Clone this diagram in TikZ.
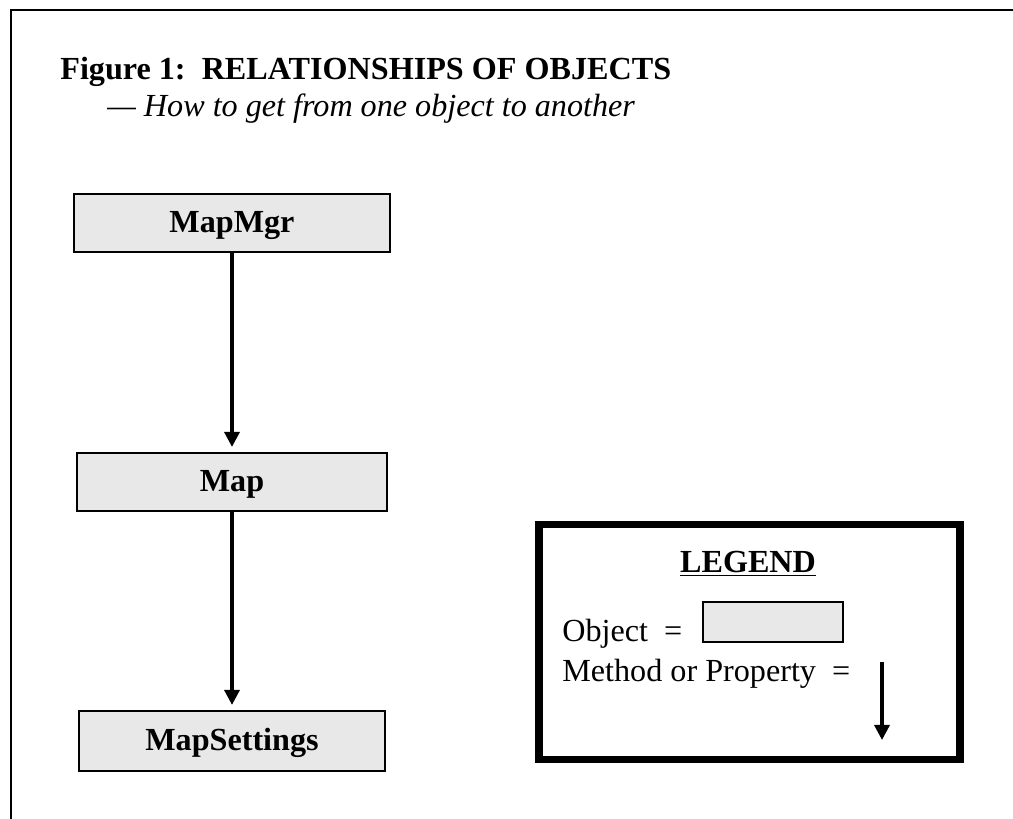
\documentclass[tikz,border=0pt]{standalone}
\usepackage{fontspec}
\setmainfont{Liberation Serif}
\usetikzlibrary{arrows.meta}
\definecolor{objgray}{HTML}{E8E8E8}
\newcommand{\figfont}{\fontsize{18.3}{21}\selectfont}
\tikzset{
    obj/.style={draw=black, fill=objgray, line width=1.2pt, inner sep=0pt,
        text height=0.45cm, text depth=0.05cm, font=\figfont\bfseries},
    link/.style={line width=1.9pt, -{Triangle[width=0.3cm,length=0.3cm]}, shorten >=0.1cm}
}
\begin{document}
\begin{tikzpicture}[font=\figfont]
        \useasboundingbox (0,0) rectangle (20.26,16.38);
        \draw[line width=1.2pt] (0.22,0) to (0.22,16.18) to (20.26,16.18);

        \node[anchor=base west, inner sep=0pt] (title) at (1.2, 14.78){\textbf{Figure 1:\ \ RELATIONSHIPS OF OBJECTS}};
        \node[anchor=base west, inner sep=0pt] (subtitle) at (2.14, 14.04){\textit{--- How to get from one object to another}};

        \node[obj, minimum width=6.32cm, minimum height=1.16cm] (mapmgr) at (4.64, 11.92){MapMgr};
        \node[obj, minimum width=6.2cm, minimum height=1.16cm] (map) at (4.64, 6.74){Map};
        \node[obj, minimum width=6.12cm, minimum height=1.2cm] (mapsettings) at (4.64, 1.56){MapSettings};

        \draw[link] (mapmgr) to (map);
        \draw[link] (map) to (mapsettings);

        % legend
        \draw[line width=4pt] (10.78, 1.19) rectangle (19.2, 5.89);
        \node[anchor=base, inner sep=0pt] (legend) at (14.96, 4.92){\textbf{\underline{LEGEND}}};
        \node[anchor=base west, inner sep=0pt] (objtext) at (11.24, 3.54){Object\ \ =};
        \node[obj, minimum width=2.8cm, minimum height=0.8cm] (objkey) at (15.46, 3.94){};
        \node[anchor=base west, inner sep=0pt] (linktext) at (11.24, 2.74){Method or Property\ \ =};
        \coordinate (linktop) at (17.64, 3.14);
        \coordinate (linkend) at (17.64, 1.48);
        \draw[link] (linktop) to (linkend);
    \end{tikzpicture}
\end{document}
